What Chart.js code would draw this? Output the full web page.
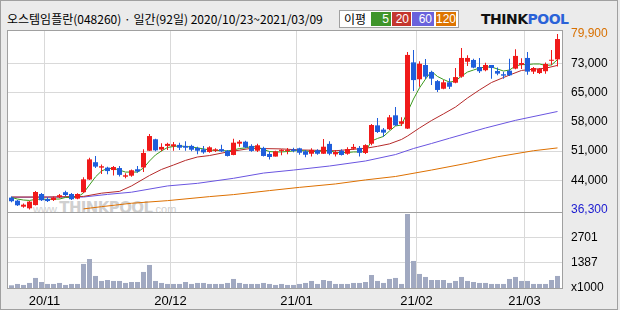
<!DOCTYPE html>
<html>
<head>
<meta charset="utf-8">
<script src="https://cdn.jsdelivr.net/npm/chart.js@4"></script>
<style>
  html, body { margin: 0; padding: 0; background: #ebebeb; }
  #wrap { position: relative; width: 620px; height: 310px; background: #ebebeb; overflow: hidden; }
  #frame { position: absolute; left: 0; top: 0; width: 618px; height: 310px; box-sizing: border-box; border: 1px solid #a0a0a0; }
  #title { position: absolute; left: 7px; top: 11px; font: 12px "Noto Sans CJK KR", sans-serif; line-height: 16px; color: #000; white-space: nowrap; }
  #legend { position: absolute; left: 339px; top: 10px; width: 120px; height: 18px; box-sizing: border-box; border: 1px solid #a0a0a0; background: #fff; }
  #legend .lbl { position: absolute; left: 4px; top: 0; font: 12px "Noto Sans CJK KR", sans-serif; line-height: 16px; }
  #legend .b { position: absolute; top: 1px; height: 14px; color: #fff; font: 12px "Liberation Sans", sans-serif; line-height: 14px; text-align: right; box-sizing: border-box; padding-right: 2px; }
  #logo { position: absolute; left: 481px; top: 11px; font: bold 14px "DejaVu Sans", sans-serif; line-height: 16px; white-space: nowrap; letter-spacing: -0.5px; }
  #logo .t { color: #111; }
  #logo .p { color: #2a62d8; }
  #plotbg { position: absolute; left: 8px; top: 31px; width: 554px; height: 257px; background: #fff; }
  #wmclip { position: absolute; left: 8px; top: 31px; width: 554px; height: 181px; overflow: hidden; }
  #wm { position: absolute; left: 25px; top: 168px; color: #d0d0d0; font: 11px "Liberation Sans", sans-serif; white-space: nowrap; }
  #wm b { font: bold 15px "DejaVu Sans", sans-serif; letter-spacing: -0.6px; }
  canvas { position: absolute; left: 0; top: 0; }
</style>
</head>
<body>
<div id="wrap">
  <div id="frame"></div>
  <div id="title">오스템임플란(048260) · 일간(92일) 2020/10/23~2021/03/09</div>
  <div id="legend">
    <span class="lbl">이평</span>
    <span class="b" style="left:31px;width:20px;background:#3f952b">5</span>
    <span class="b" style="left:52px;width:19px;background:#c4362e">20</span>
    <span class="b" style="left:72px;width:22px;background:#6a62dc">60</span>
    <span class="b" style="left:96px;width:20px;background:#dd7400">120</span>
  </div>
  <div id="logo"><span class="t">THINK</span><span class="p">POOL</span></div>
  <div id="plotbg"></div>
  <div id="wmclip"><div id="wm">www.<b>THINKPOOL</b>.com</div></div>
  <canvas id="chart" width="620" height="310"></canvas>
</div>
<script>
// daily candles, 2020/10/23 ~ 2021/03/09 (92 trading days), index 0..91
const open = [
  39250, 38500, 37000, 36600, 37400, 40150, 38900, 38650, 39350, 40600,
  40150, 39000, 40600, 43750, 48050, 46700, 46700, 46100, 46600, 44450,
  44700, 46300, 46750, 50900, 53750, 51200, 52100, 52000, 52350, 52100,
  52100, 51600, 51250, 50600, 50900, 51300, 50900, 49850, 52650, 53150,
  52100, 50900, 51600, 50100, 49450, 50850, 50850, 51250, 51500, 50750,
  50150, 51000, 50150, 52600, 50000, 50900, 50150, 51400, 51600, 50350,
  52650, 57200, 56150, 56250, 59700, 57600, 56400, 72850, 68650, 72200,
  70450, 68200, 66300, 67900, 67800, 69300, 73000, 73450, 71700, 70900,
  72200, 70700, 69900, 70800, 71300, 72250, 73950, 70550, 70200, 70650,
  73250, 73600
];
const high = [
  39500, 38650, 37800, 38400, 40900, 40400, 39350, 39500, 40150, 40950,
  40400, 40350, 44300, 49150, 49600, 47450, 46950, 47100, 47100, 45300,
  46250, 47100, 51250, 55050, 53900, 52750, 52900, 53050, 52900, 53250,
  52400, 51900, 52100, 52000, 51500, 52400, 51100, 53900, 53550, 53400,
  52500, 52650, 51900, 50750, 50900, 51250, 51600, 51650, 51650, 51100,
  51500, 51250, 53800, 53250, 51100, 51250, 51750, 52600, 52100, 52500,
  57550, 59050, 56550, 59800, 61750, 59200, 75400, 75900, 73100, 73700,
  70800, 68450, 68450, 68900, 71450, 76400, 74600, 73750, 73950, 72750,
  72200, 71550, 70550, 73750, 76100, 73850, 75450, 71700, 71450, 72850,
  75900, 79900
];
const low = [
  38100, 37200, 36750, 36300, 37300, 38400, 38150, 38400, 39100, 39650,
  38650, 38850, 40400, 43650, 46600, 45100, 45050, 44750, 44500, 44050,
  44450, 45450, 45600, 50850, 50750, 50750, 51100, 50900, 51100, 50900,
  50750, 50000, 50150, 50400, 50600, 50600, 49450, 49750, 51900, 51600,
  50650, 50600, 49450, 48750, 49450, 49750, 50000, 50500, 49900, 49250,
  49450, 49900, 50100, 49750, 49450, 49700, 49900, 51100, 49450, 50100,
  52250, 55300, 54400, 56050, 57050, 57050, 56300, 65750, 66800, 68700,
  67250, 65500, 66150, 66250, 67650, 69050, 71950, 71400, 70200, 70650,
  68800, 69650, 68800, 69450, 71150, 71200, 69800, 69950, 69950, 70050,
  72200, 71800
];
const close = [
  38350, 37350, 37500, 38250, 40650, 38600, 38400, 39250, 39850, 39900,
  38850, 40150, 43800, 48750, 46950, 47050, 45850, 46850, 44900, 44800,
  46050, 45750, 50350, 54550, 51000, 51850, 52600, 52500, 51650, 51650,
  51150, 50900, 50500, 51750, 51250, 50750, 49600, 52900, 53150, 51750,
  50850, 52250, 49600, 49350, 50750, 51150, 51100, 50850, 50400, 49900,
  51100, 50150, 51900, 50150, 50600, 49850, 51300, 51850, 50400, 52300,
  57300, 55550, 55400, 59200, 57200, 58200, 74700, 68450, 72500, 69300,
  68800, 66000, 67900, 66800, 69200, 73950, 73950, 71550, 70650, 72200,
  71450, 70050, 69550, 69650, 74450, 72700, 70550, 71450, 71200, 72450,
  73500, 78650
];
// volume, x1000 shares
const volume = [
  178, 248, 196, 301, 564, 353, 248, 248, 301, 196,
  248, 248, 1300, 1562, 669, 406, 458, 406, 406, 301,
  353, 353, 879, 1247, 406, 301, 248, 248, 248, 353,
  248, 301, 301, 248, 248, 248, 301, 511, 301, 248,
  248, 248, 301, 248, 196, 248, 196, 196, 248, 301,
  406, 248, 458, 406, 248, 248, 248, 301, 301, 353,
  721, 406, 301, 511, 564, 248, 3927, 1457, 774, 616,
  458, 458, 458, 301, 406, 616, 406, 353, 301, 301,
  248, 248, 248, 511, 616, 406, 406, 248, 248, 248,
  458, 669
];
// moving averages
const ma5 = [
  39300, 38900, 38650, 38550, 38800, 38900, 38800, 38900, 38900, 39300,
  39300, 39400, 40400, 42400, 44400, 45850, 46500, 46500, 46100, 45600,
  45600, 45600, 46600, 48350, 49850, 50850, 51700, 51950, 52100, 51950,
  51850, 51600, 51350, 51100, 50950, 50950, 50850, 51100, 51450, 51600,
  51950, 51850, 51200, 50700, 50600, 50600, 50700, 50850, 50950, 50850,
  50700, 50700, 50850, 50950, 50450, 50450, 50450, 50600, 50600, 50700,
  53300, 53950, 54450, 55800, 57050, 57300, 60500, 63750, 66500, 68700,
  70600, 69350, 68600, 67950, 68200, 69450, 70450, 70950, 71450, 71700,
  71700, 71200, 70700, 70950, 71950, 72300, 72300, 72450, 72450, 72100,
  72200, 73550
];
const ma20Days = [0, 6, 12, 15, 18, 20, 23, 25, 27, 29, 31, 33, 36, 40, 45, 48, 54, 59, 61, 63, 65, 66, 68, 70, 72, 74, 76, 78, 80, 83, 85, 87, 89, 91];
const ma20 = [39400, 39400, 39550, 40350, 40800, 42150, 44750, 46250, 47350, 48500, 49350, 49700, 50600, 51500, 51350, 51100, 50900, 51500, 52000, 52600, 53700, 54550, 56550, 58400, 60050, 61750, 64000, 66000, 67850, 69700, 70850, 71150, 71400, 72100];
const ma60Days = [0, 12, 16, 20, 26, 31, 37, 42, 47, 53, 59, 64, 67, 70, 73, 79, 84, 91];
const ma60 = [39350, 39400, 40050, 40600, 42150, 42800, 44050, 45350, 46100, 47100, 48350, 49950, 51450, 52700, 54000, 56550, 58450, 60650];
const ma120Days = [12, 15, 20, 26, 33, 37, 43, 48, 54, 59, 64, 70, 76, 81, 87, 91];
const ma120 = [36450, 37000, 37850, 38500, 39500, 40000, 41000, 41800, 42650, 43650, 44500, 46100, 47800, 49400, 50900, 51600];

const priceTicks = [36300, 43567, 50833, 58100, 65367, 72633, 79900];
const priceTickLabels = ['36,300', '44,000', '51,000', '58,000', '65,000', '73,000', '79,900'];
const volTicks = [73, 1387, 2701];
const volTickLabels = ['x1000', '1387', '2701'];
const monthTicks = [5.5, 26.5, 47.5, 67.5, 85.5];
const monthLabels = ['20/11', '20/12', '21/01', '21/02', '21/03'];

const UP = '#f01a1a';
const DOWN = '#1f5edb';
const GRID = '#d9d9d9';
const idx = open.map((_, i) => i);
const candleColor = idx.map(i => close[i] >= open[i] ? UP : DOWN);
const pts = (days, vals) => days.map((d, k) => ({ x: d, y: vals[k] }));
const axisFont = { family: 'Liberation Sans', size: 12 };

const frame = {
  id: 'frame',
  afterDraw(chart) {
    const { ctx, chartArea: a } = chart;
    const mid = chart.scales.y.bottom;
    ctx.save();
    ctx.strokeStyle = '#a0a0a0';
    ctx.lineWidth = 1;
    ctx.strokeRect(a.left - 0.5, a.top - 0.5, a.right - a.left + 1, a.bottom - a.top + 1);
    ctx.beginPath();
    ctx.moveTo(a.left, mid + 0.5);
    ctx.lineTo(a.right, mid + 0.5);
    ctx.stroke();
    ctx.restore();
  }
};

const line = (label, data, color, order) => ({
  type: 'line', label, data, borderColor: color, borderWidth: 1,
  pointRadius: 0, tension: 0, yAxisID: 'y', order
});

new Chart(document.getElementById('chart'), {
  type: 'bar',
  data: {
    datasets: [
      line('MA120', pts(ma120Days, ma120), '#dd7000', 5),
      line('MA60', pts(ma60Days, ma60), '#6a55e0', 4),
      line('MA20', pts(ma20Days, ma20), '#b52a2a', 3),
      line('MA5', idx.map(i => ({ x: i, y: ma5[i] })), '#3c9a1e', 2),
      {
        label: 'wick', data: idx.map(i => ({ x: i, y: [low[i], high[i]] })),
        backgroundColor: candleColor, barThickness: 1, grouped: false,
        inflateAmount: 0, yAxisID: 'y', order: 1
      },
      {
        label: 'body', data: idx.map(i => ({ x: i, y: [open[i], close[i]] })),
        backgroundColor: candleColor, barThickness: 5, minBarLength: 1, grouped: false,
        inflateAmount: 0, yAxisID: 'y', order: 0
      },
      {
        label: 'volume', data: idx.map(i => ({ x: i, y: volume[i] })),
        backgroundColor: '#a1a9c1', barThickness: 5, grouped: false,
        inflateAmount: 0, yAxisID: 'yv', order: 0
      }
    ]
  },
  options: {
    responsive: false,
    animation: false,
    devicePixelRatio: 1,
    layout: { padding: { left: 8, top: 31, right: 0, bottom: 0 } },
    plugins: { legend: { display: false }, tooltip: { enabled: false } },
    scales: {
      x: {
        type: 'linear', min: -0.5833, max: 91.75, offset: false, bounds: 'data',
        afterBuildTicks: s => { s.ticks = monthTicks.map(v => ({ value: v })); },
        afterFit: s => { s.height = 22; },
        grid: { color: GRID, drawTicks: false, offset: false },
        border: { display: false },
        ticks: {
          callback: (v, k) => monthLabels[k], padding: 6, color: '#000',
          font: { family: 'Liberation Sans', size: 13 }, maxRotation: 0, autoSkip: false
        }
      },
      y: {
        type: 'linear', position: 'right', stack: 'panes', stackWeight: 181,
        min: 35679, max: 80645, bounds: 'data',
        afterBuildTicks: s => { s.ticks = priceTicks.map(v => ({ value: v })); },
        afterFit: s => { s.width = 58; },
        grid: {
          drawTicks: false,
          color: c => (c.tick && (c.tick.value === 79900 || c.tick.value === 36300)) ? 'rgba(0,0,0,0)' : GRID
        },
        border: { display: false },
        ticks: {
          callback: (v, k) => priceTickLabels[k], padding: 9, font: axisFont, autoSkip: false,
          color: c => c.tick.value === 79900 ? '#d87000' : c.tick.value === 36300 ? '#1a1ad0' : '#000'
        }
      },
      yv: {
        type: 'linear', position: 'right', stack: 'panes', stackWeight: 76,
        min: 36, max: 4031, bounds: 'data',
        afterBuildTicks: s => { s.ticks = volTicks.map(v => ({ value: v })); },
        afterFit: s => { s.width = 58; },
        grid: {
          drawTicks: false,
          color: c => (c.tick && c.tick.value === 73) ? 'rgba(0,0,0,0)' : GRID
        },
        border: { display: false },
        ticks: { callback: (v, k) => volTickLabels[k], padding: 9, font: axisFont, color: '#000', autoSkip: false }
      }
    }
  },
  plugins: [frame]
});
</script>
</body>
</html>
